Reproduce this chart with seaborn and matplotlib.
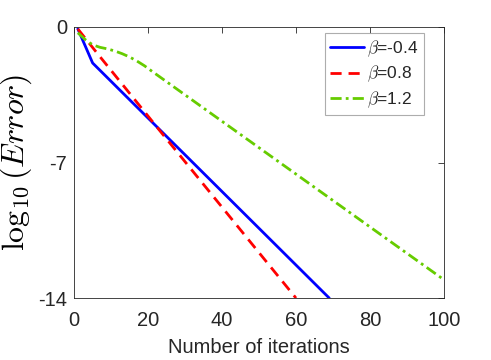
import numpy as np
import pandas as pd
import matplotlib
matplotlib.use("Agg")
import matplotlib.pyplot as plt
import seaborn as sns

# Data (iteration, log10 error)
blue_iter = [1, 5, 69]
blue_err = [-0.1, -1.86, -14.0]

red_iter = [1, 6, 24, 60]
red_err = [-0.1, -1.3, -5.55, -14.0]

green_iter = [1, 3, 5, 7, 9, 11, 13, 15, 17, 19, 21, 100]
green_err = [-0.3, -0.65, -0.92, -1.05, -1.13, -1.24, -1.38, -1.55, -1.76, -2.0, -2.28, -13.05]

labels = [r"$\beta$=-0.4", r"$\beta$=0.8", r"$\beta$=1.2"]
xticks = [0, 20, 40, 60, 80, 100]
yticks = [-14, -7, 0]
ytick_labels = ["-14", "-7", "0"]

sns.set_style("white")
plt.rcParams["font.family"] = ["Liberation Sans", "DejaVu Sans"]
plt.rcParams["mathtext.fontset"] = "cm"

fig = plt.figure(figsize=(4.91, 3.6), dpi=100)
ax = fig.add_axes([0.151, 0.172, 0.753, 0.753])

sns.lineplot(x=blue_iter, y=blue_err, ax=ax, color="#0000ff", lw=2, label=labels[0])
sns.lineplot(x=red_iter, y=red_err, ax=ax, color="#ff0000", lw=2, label=labels[1])
ax.lines[-1].set_dashes([4, 2.5])
sns.lineplot(x=green_iter, y=green_err, ax=ax, color="#66cc00", lw=2, label=labels[2])
ax.lines[-1].set_dashes([4, 1.5, 1, 1.5])

ax.set_xlim(0, 100)
ax.set_ylim(-14, 0)
ax.set_xticks(xticks)
ax.set_yticks(yticks)
ax.set_yticklabels(ytick_labels)
ax.tick_params(direction="in", length=4, width=0.6, colors="#262626",
               labelsize=14.5, top=True, right=True)
ax.tick_params(axis="x", pad=9)
ax.tick_params(axis="y", pad=5)
for s in ax.spines.values():
    s.set_color("#262626")
    s.set_linewidth(0.6)

ax.set_xlabel("Number of iterations", fontsize=14.5, color="#262626", labelpad=6)
ax.set_ylabel(r"$\log_{10}(Error)$", fontsize=23, color="black", labelpad=3)

leg = ax.legend(loc="upper right", fontsize=12.5, handlelength=1.95, frameon=True,
                fancybox=False, edgecolor="#999999", borderpad=0.3,
                labelspacing=0.3, handletextpad=0.2, borderaxespad=0.0,
                bbox_to_anchor=(0.946, 0.978))
leg.get_frame().set_linewidth(0.8)

fig.savefig("out.png", dpi=100)
